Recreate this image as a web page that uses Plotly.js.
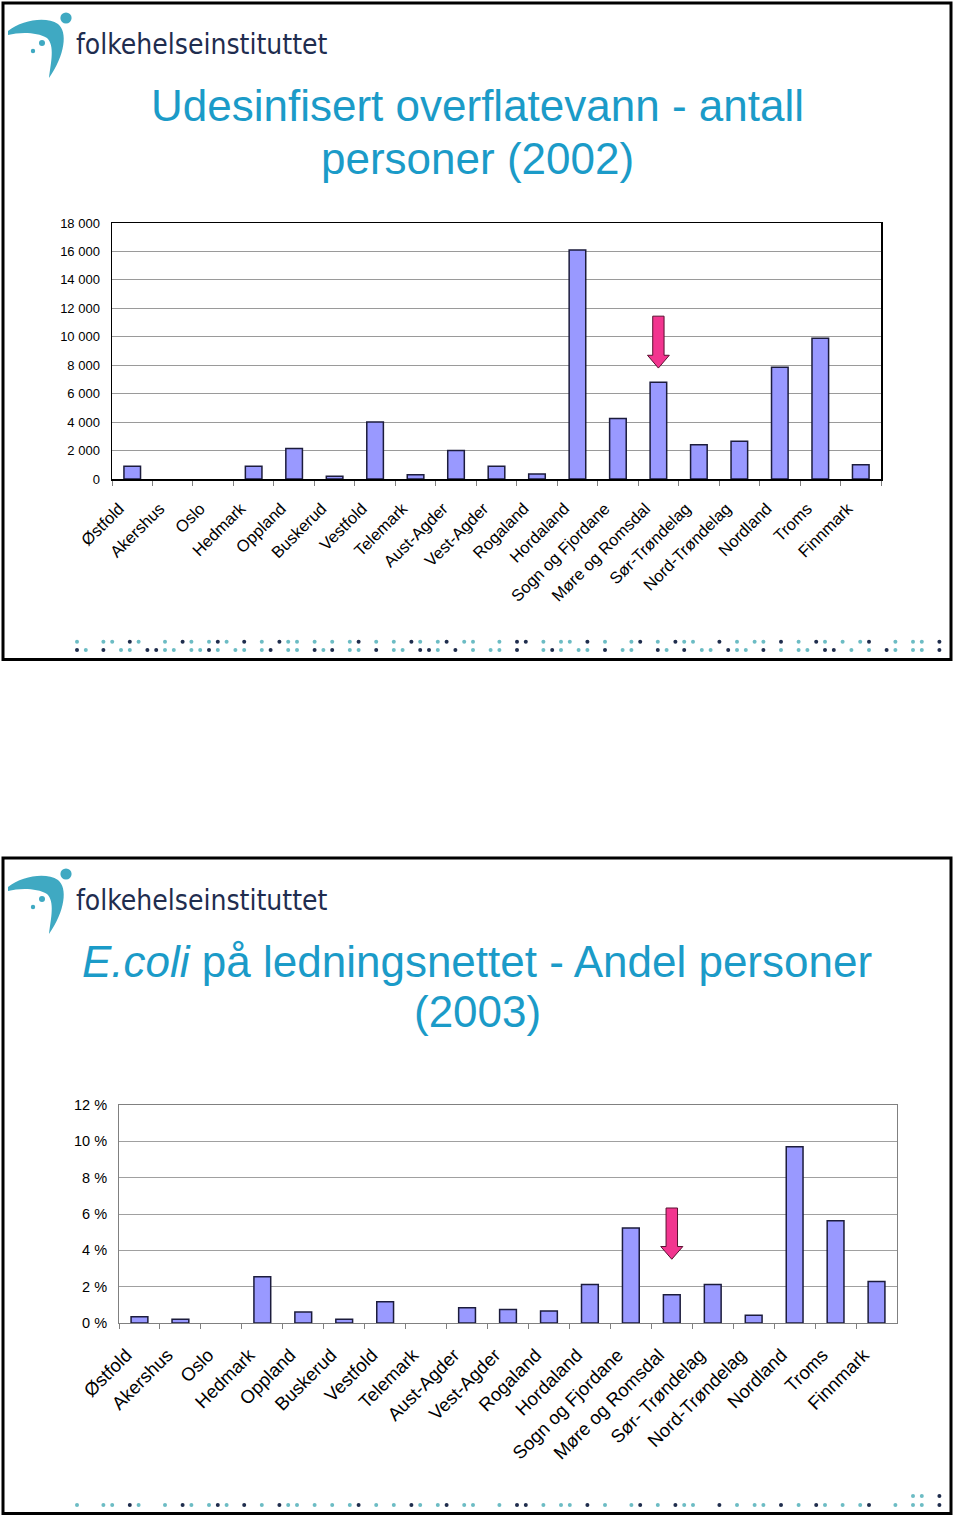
<!DOCTYPE html>
<html>
<head>
<meta charset="utf-8">
<script src="https://cdn.plot.ly/plotly-3.0.1.min.js"></script>
<style>
body { margin: 0; background: #fff; }
#chart { width: 960px; height: 1522px; }
</style>
</head>
<body>
<div id="chart"></div>
<script>
var W = 960, H = 1522;

// slide 1: untreated surface water, number of persons (2002)
var regions2002 = ['Østfold', 'Akershus', 'Oslo', 'Hedmark', 'Oppland', 'Buskerud', 'Vestfold',
    'Telemark', 'Aust-Agder', 'Vest-Agder', 'Rogaland', 'Hordaland', 'Sogn og Fjordane',
    'Møre og Romsdal', 'Sør-Trøndelag', 'Nord-Trøndelag', 'Nordland', 'Troms', 'Finnmark'];
var persons2002 = [900, 0, 0, 900, 2150, 200, 4000, 300, 2000, 900, 350, 16100, 4250,
    6800, 2400, 2650, 7850, 9900, 1000];
var ticks2002 = [0, 2000, 4000, 6000, 8000, 10000, 12000, 14000, 16000, 18000];

// slide 2: E.coli in the network, share of persons (2003), in percent
var regions2003 = ['Østfold', 'Akershus', 'Oslo', 'Hedmark', 'Oppland', 'Buskerud', 'Vestfold',
    'Telemark', 'Aust-Agder', 'Vest-Agder', 'Rogaland', 'Hordaland', 'Sogn og Fjordane',
    'Møre og Romsdal', 'Sør- Trøndelag', 'Nord-Trøndelag', 'Nordland', 'Troms', 'Finnmark'];
var ecoliPct2003 = [0.35, 0.2, 0, 2.55, 0.6, 0.2, 1.17, 0, 0.84, 0.74, 0.66, 2.12, 5.23,
    1.56, 2.12, 0.42, 9.7, 5.63, 2.29];
var ticks2003 = [0, 2, 4, 6, 8, 10, 12];
var tickText2003 = ['0 %', '2 %', '4 %', '6 %', '8 %', '10 %', '12 %'];

var title2002 = ['Udesinfisert overflatevann - antall', 'personer (2002)'];
var title2003 = ['<i>E.coli</i> på ledningsnettet - Andel personer', '(2003)'];
var logoText = 'folkehelseinstituttet';
var highlighted = 'Møre og Romsdal';

// decorative dot band at the foot of each slide (t = teal, n = navy)
var dotRowA = 't  tt nt  t nt tnt n t ntt t t tn t t nt tn tt  t nn t tt n t  tn t ntt  n t tt n t nt t tn  t tt n ';
var dotRowB = 'nt n tt nntt ttnt tt tn tt ntn tt n tt nnt n t tt n  tnt tt n tt  nt n tt ntt n t tt nn t t nt tt n t';

var TITLE_BLUE = '#1b9bc8';
var LOGO_TEAL = '#3fa9c2';
var LOGO_NAVY = '#1f2d4f';
var BAR_FILL = '#9999ff';
var BAR_EDGE = '#1c1c3c';

function px(x) { return x / W; }
function py(y) { return 1 - y / H; }
function pathPx(s, dy) {
    return s.replace(/(-?\d+(?:\.\d+)?),(-?\d+(?:\.\d+)?)/g, function (m, a, b) {
        return px(+a).toFixed(5) + ',' + py(+b + dy).toFixed(5);
    });
}

var shapes = [];
var annotations = [];

function slide(top, bottom) {
    shapes.push({ type: 'rect', xref: 'paper', yref: 'paper', x0: px(3), x1: px(951),
        y0: py(bottom), y1: py(top), line: { color: '#000', width: 3 }, layer: 'above' });
}

function circlePx(cx, cy, r, color) {
    shapes.push({ type: 'circle', xref: 'paper', yref: 'paper', x0: px(cx - r), x1: px(cx + r),
        y0: py(cy + r), y1: py(cy - r), fillcolor: color, line: { width: 0 } });
}

function logo(dy) {
    shapes.push({ type: 'path', xref: 'paper', yref: 'paper', fillcolor: LOGO_TEAL, line: { width: 0 },
        path: pathPx('M 8,31 C 22,20 46,16 58,24 C 68,32 65,55 49,78 C 51,62 55,46 47,38 C 37,32 20,32 8,35 Z', dy) });
    circlePx(66, 18 + dy, 5.6, LOGO_TEAL);
    circlePx(42, 43 + dy, 3, LOGO_TEAL);
    circlePx(33, 51 + dy, 2.2, LOGO_TEAL);
    annotations.push({ xref: 'paper', yref: 'paper', x: px(74), y: py(44 + dy), xanchor: 'left', yanchor: 'middle',
        showarrow: false, text: logoText,
        font: { family: 'DejaVu Sans Condensed, DejaVu Sans', size: 28, color: LOGO_NAVY } });
}

function dotRow(pattern, y, xFrom) {
    for (var i = 0; i < 100; i++) {
        var x = 77 + i * 8.8;
        if (x > 951 || x < xFrom) continue;
        var c = pattern.charAt(i % pattern.length);
        if (c === 't') circlePx(x, y, 2, '#6cbcc4');
        if (c === 'n') circlePx(x, y, 2, '#1f2d4d');
    }
}

function titleLine(text, cy) {
    annotations.push({ xref: 'paper', yref: 'paper', x: px(477), y: py(cy), xanchor: 'center', yanchor: 'middle',
        showarrow: false, text: text,
        font: { family: 'Liberation Sans, Arial, sans-serif', size: 44, color: TITLE_BLUE } });
}

// block arrow pointing down at a bar, offsets measured from the bar's value
function arrow(xref, yref, idx, value, tipGap, headGap, topGap) {
    var s = 0.14, h = 0.27;
    var tip = value + tipGap, head = value + headGap, top = value + topGap;
    var p = 'M ' + (idx - s) + ',' + top + ' L ' + (idx + s) + ',' + top + ' L ' + (idx + s) + ',' + head +
        ' L ' + (idx + h) + ',' + head + ' L ' + idx + ',' + tip + ' L ' + (idx - h) + ',' + head +
        ' L ' + (idx - s) + ',' + head + ' Z';
    shapes.push({ type: 'path', xref: xref, yref: yref, path: p, fillcolor: '#f2358f',
        line: { color: '#5a1030', width: 1 }, layer: 'above' });
}

slide(3, 659.5);
slide(858, 1513.5);
logo(0);
logo(856);
titleLine(title2002[0], 106);
titleLine(title2002[1], 158);
titleLine(title2003[0], 961);
titleLine(title2003[1], 1012);
dotRow(dotRowA, 641.7, 0);
dotRow(dotRowB, 650, 0);
dotRow(dotRowB, 1496, 897);
dotRow(dotRowA, 1505, 0);

var i2002 = regions2002.indexOf(highlighted);
arrow('x', 'y', i2002, persons2002[i2002], 1000, 1900, 4650);
var i2003 = regions2003.indexOf(highlighted);
arrow('x2', 'y2', i2003, ecoliPct2003[i2003], 1.95, 2.65, 4.77);

// empty bars get no outline, as on the slides
function barMarker(values) {
    return {
        color: BAR_FILL,
        line: { color: BAR_EDGE, width: values.map(function (v) { return v > 0 ? 1.5 : 0; }) }
    };
}

var trace2002 = {
    type: 'bar', x: regions2002, y: persons2002, xaxis: 'x', yaxis: 'y',
    marker: barMarker(persons2002), hoverinfo: 'skip'
};
var trace2003 = {
    type: 'bar', x: regions2003, y: ecoliPct2003, xaxis: 'x2', yaxis: 'y2',
    marker: barMarker(ecoliPct2003), hoverinfo: 'skip'
};

var axisFont = 'Liberation Sans, Arial, sans-serif';

var layout = {
    width: W, height: H,
    margin: { l: 0, r: 0, t: 0, b: 0 },
    paper_bgcolor: '#fff', plot_bgcolor: '#fff',
    showlegend: false,
    separators: ', ',
    bargap: 0.59,
    font: { family: axisFont, color: '#000' },
    xaxis: {
        domain: [px(112), px(881)], anchor: 'y', type: 'category',
        showline: true, linecolor: '#000', linewidth: 1.5, mirror: true,
        ticks: 'outside', tickson: 'boundaries', ticklen: 5, tickcolor: '#808080',
        tickangle: -45, tickfont: { size: 16.5, family: axisFont }, showgrid: false,
        ticklabelstandoff: 12, ticklabelshift: -13
    },
    yaxis: {
        domain: [py(479), py(223)], anchor: 'x', range: [0, 18000],
        tickvals: ticks2002, tickformat: ',d',
        showline: true, linecolor: '#000', linewidth: 1.5, mirror: true,
        ticks: 'outside', ticklen: 8, tickcolor: 'rgba(0,0,0,0)',
        gridcolor: '#9a9a9a', gridwidth: 1, zeroline: false,
        tickfont: { size: 13, family: axisFont }
    },
    xaxis2: {
        domain: [px(119), px(897)], anchor: 'y2', type: 'category',
        showline: true, linecolor: '#808080', linewidth: 1, mirror: true,
        ticks: 'outside', tickson: 'boundaries', ticklen: 5, tickcolor: '#808080',
        tickangle: -45, tickfont: { size: 18.5, family: axisFont }, showgrid: false,
        ticklabelstandoff: 13, ticklabelshift: -13
    },
    yaxis2: {
        domain: [py(1323), py(1105)], anchor: 'x2', range: [0, 12],
        tickvals: ticks2003, ticktext: tickText2003,
        showline: true, linecolor: '#808080', linewidth: 1, mirror: true,
        ticks: 'outside', ticklen: 8, tickcolor: 'rgba(0,0,0,0)',
        gridcolor: '#a0a0a0', gridwidth: 1, zeroline: false,
        tickfont: { size: 14.5, family: axisFont }
    },
    shapes: shapes,
    annotations: annotations
};

Plotly.newPlot('chart', [trace2002, trace2003], layout, { displayModeBar: false, staticPlot: true });
</script>
</body>
</html>
